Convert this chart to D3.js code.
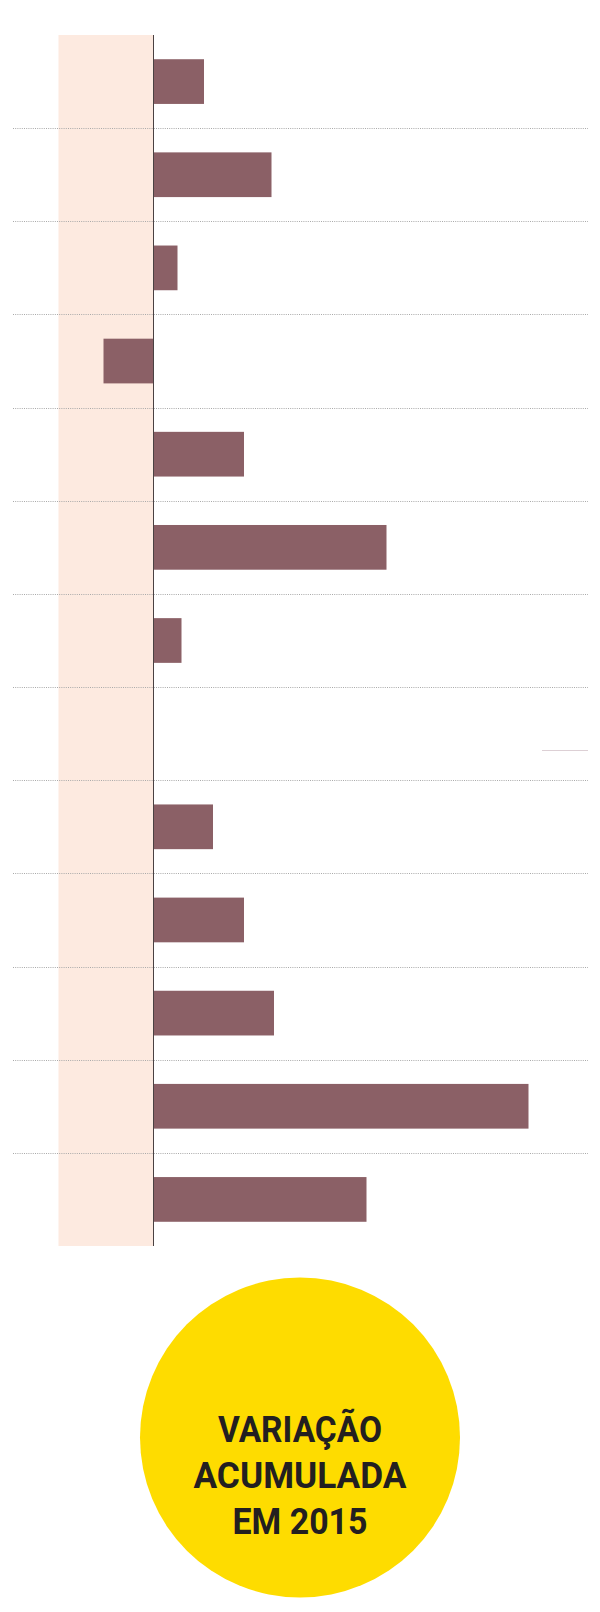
<!DOCTYPE html>
<html>
<head>
<meta charset="utf-8">
<script src="https://cdn.jsdelivr.net/npm/d3@7"></script>
<style>
  html, body { margin: 0; padding: 0; background: #fff; }
  svg { display: block; }
</style>
</head>
<body>
<svg id="chart" width="600" height="1612"></svg>
<script>
// ---- data ----
const categories = ["c1","c2","c3","c4","c5","c6","c7","c8","c9","c10","c11","c12","c13"];
const values = [5.05, 11.8, 2.4, -5.0, 9.05, 23.3, 2.8, 0, 5.95, 9.05, 12.05, 37.5, 21.3];
const bandRange = [-9.5, 0];
const titleLines = ["VARIAÇÃO", "ACUMULADA", "EM 2015"];

// ---- layout ----
const svg = d3.select("#chart");
const x = d3.scaleLinear().domain([-10, 40]).range([53.5, 553.5]);
const y = d3.scaleBand().domain(categories).range([35, 1246])
  .paddingInner(0.52).paddingOuter(0.26);

// shaded band
svg.append("rect")
  .attr("x", x(bandRange[0])).attr("y", 35)
  .attr("width", x(bandRange[1]) - x(bandRange[0]))
  .attr("height", 1246 - 35)
  .attr("fill", "#fdeae0");

// dotted separators
const seps = categories.slice(0, -1).map(c => y(c) + y.bandwidth() + y.step() * y.paddingOuter());
svg.selectAll("line.sep").data(seps).enter().append("line")
  .attr("class", "sep")
  .attr("x1", 13).attr("x2", 588)
  .attr("y1", d => Math.round(d) + 0.5).attr("y2", d => Math.round(d) + 0.5)
  .attr("stroke", "#a9a9a9").attr("stroke-width", 1)
  .attr("stroke-dasharray", "1,1.2");

// bars
svg.selectAll("rect.bar").data(values).enter().append("rect")
  .attr("class", "bar")
  .attr("x", (d) => x(Math.min(0, d)))
  .attr("y", (d, i) => y(categories[i]))
  .attr("width", d => Math.abs(x(d) - x(0)))
  .attr("height", y.bandwidth())
  .attr("fill", "#8b6066");

// zero axis
svg.append("line")
  .attr("x1", x(0)).attr("x2", x(0))
  .attr("y1", 35).attr("y2", 1246)
  .attr("stroke", "#4a4142").attr("stroke-width", 1);

// faint mark near empty row
svg.append("line")
  .attr("x1", 542).attr("x2", 588)
  .attr("y1", 750.5).attr("y2", 750.5)
  .attr("stroke", "#ddd0d5").attr("stroke-width", 1);

// yellow circle with title
svg.append("circle")
  .attr("cx", 300).attr("cy", 1437.5).attr("r", 160)
  .attr("fill", "#fedc00");

const lineWidths = [164, 213, 135];
svg.selectAll("text.title").data(titleLines).enter().append("text")
  .attr("class", "title")
  .attr("x", 300)
  .attr("y", (d, i) => 1441.5 + i * 46.3)
  .attr("text-anchor", "middle")
  .attr("font-family", "Roboto, 'DejaVu Sans', sans-serif")
  .attr("font-weight", 700)
  .attr("font-size", 36)
  .attr("textLength", (d, i) => lineWidths[i])
  .attr("lengthAdjust", "spacingAndGlyphs")
  .attr("fill", "#231f20")
  .text(d => d);
</script>
</body>
</html>
